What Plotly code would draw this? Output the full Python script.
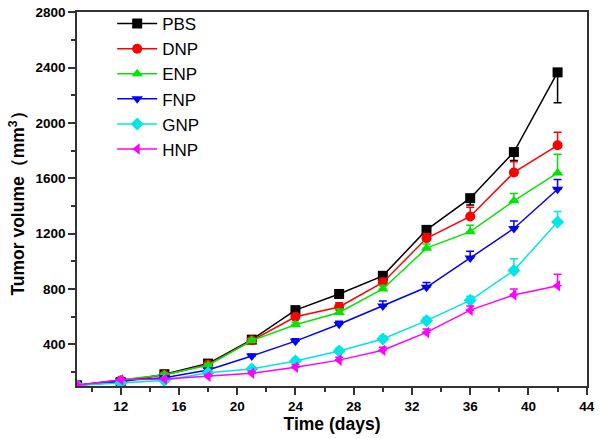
import plotly.graph_objects as go

days = [9, 12, 15, 18, 21, 24, 27, 30, 33, 36, 39, 42]

names = ["PBS", "DNP", "ENP", "FNP", "GNP", "HNP"]

pbs = [105, 128, 185, 262, 435, 648, 765, 896, 1228, 1457, 1790, 2366]
dnp = [105, 140, 180, 255, 430, 600, 671, 848, 1167, 1325, 1643, 1839]
enp = [105, 145, 182, 250, 428, 542, 631, 801, 1096, 1215, 1438, 1639]
fnp = [105, 140, 160, 216, 317, 424, 546, 678, 813, 1025, 1238, 1521]
gnp = [105, 122, 140, 195, 223, 280, 353, 440, 572, 719, 935, 1285]
hnp = [105, 145, 150, 171, 192, 235, 287, 358, 487, 648, 758, 825]

pbs_err = [5, 10, 12, 15, 20, 25, 30, 35, 40, 50, 60, 220]
dnp_err = [5, 8, 10, 12, 15, 20, 30, 30, 35, 66, 78, 95]
enp_err = [5, 8, 10, 12, 15, 18, 25, 25, 30, 46, 52, 135]
fnp_err = [5, 8, 10, 12, 15, 18, 22, 36, 35, 48, 54, 70]
gnp_err = [5, 8, 10, 12, 15, 18, 20, 22, 25, 30, 85, 75]
hnp_err = [5, 8, 10, 12, 15, 18, 20, 22, 25, 30, 43, 82]

series = [pbs, dnp, enp, fnp, gnp, hnp]
errors = [pbs_err, dnp_err, enp_err, fnp_err, gnp_err, hnp_err]
err_down = [True, False, False, False, False, False]

colors = ["#000000", "#ff0000", "#00e600", "#0000ff", "#00e5e5", "#ff00ff"]
symbols = ["square", "circle", "triangle-up", "triangle-down", "diamond", "triangle-left"]

FONT = "Liberation Sans, Arial, sans-serif"

fig = go.Figure()
for name, vals, err, down, col, sym in zip(names, series, errors, err_down, colors, symbols):
    zeros = [0] * len(err)
    fig.add_trace(go.Scatter(
        x=days, y=vals, name=name, mode="lines+markers",
        line=dict(color=col, width=1.5),
        marker=dict(symbol=sym, size=10, color=col, line=dict(width=0)),
        error_y=dict(type="data", symmetric=False,
                     array=zeros if down else err,
                     arrayminus=err if down else zeros,
                     color=col, thickness=1.5, width=4),
    ))

tick_font = dict(family=FONT, size=13.5, color="#000000", weight="bold")
title_font = dict(family=FONT, size=17.5, color="#000000", weight="bold")

fig.update_layout(
    width=600, height=438,
    margin=dict(l=77, r=10, t=5, b=52),
    paper_bgcolor="white", plot_bgcolor="white",
    font=dict(family=FONT, color="#000000"),
    legend=dict(x=0.069, y=1.016, xanchor="left", yanchor="top",
                bgcolor="rgba(0,0,0,0)", borderwidth=0,
                font=dict(size=17, family=FONT),
                itemwidth=40, tracegroupgap=0),
    xaxis=dict(
        range=[9, 44.02], tickvals=[12, 16, 20, 24, 28, 32, 36, 40, 44],
        ticks="outside", ticklen=7, tickwidth=1.5, tickcolor="#333",
        minor=dict(ticks="outside", ticklen=4, tickwidth=1.5, tickcolor="#333", dtick=2, tick0=0),
        showline=True, linecolor="#333", linewidth=1.5, mirror=True,
        showgrid=False, zeroline=False, ticklabeloverflow="allow",
        tickfont=tick_font,
        title=dict(text="Time (days)", font=title_font, standoff=3),
    ),
    yaxis=dict(
        range=[100, 2802], tickvals=[400, 800, 1200, 1600, 2000, 2400, 2800],
        ticks="outside", ticklen=7, tickwidth=1.5, tickcolor="#333",
        minor=dict(ticks="outside", ticklen=4, tickwidth=1.5, tickcolor="#333", dtick=200, tick0=0),
        showline=True, linecolor="#333", linewidth=1.5, mirror=True,
        showgrid=False, zeroline=False, ticklabeloverflow="allow",
        tickfont=tick_font,
        title=dict(text="Tumor volume（mm<sup>3</sup>）", font=title_font, standoff=6),
    ),
)

fig.write_html("out.html", config={"displayModeBar": False},
               post_script="document.body.style.margin='0';")
